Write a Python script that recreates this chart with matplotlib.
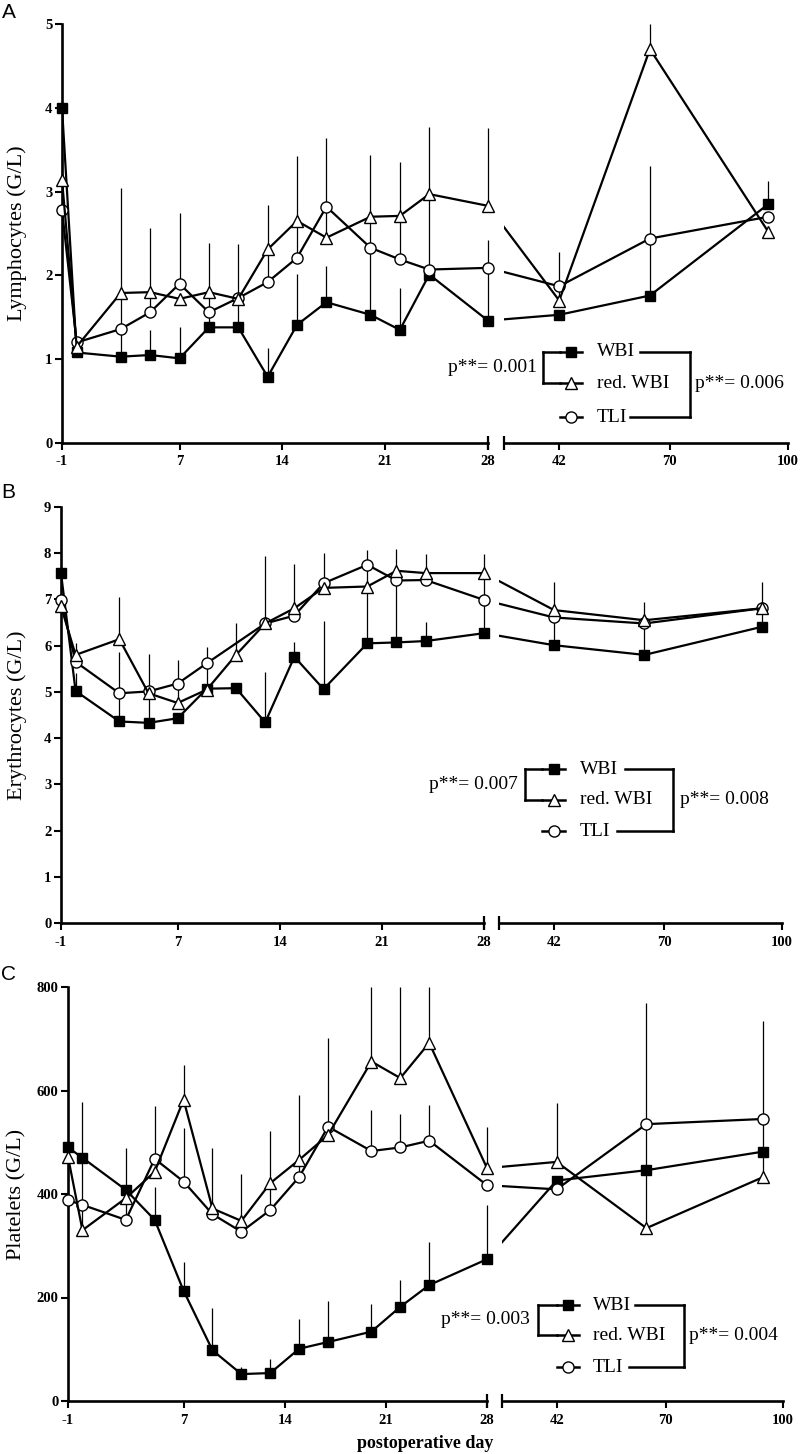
import numpy as np
import matplotlib
matplotlib.use("Agg")
import matplotlib.pyplot as plt
from matplotlib.lines import Line2D

plt.rcParams['font.family'] = ['Liberation Serif', 'DejaVu Serif']

# ---------------- data ----------------
nan = np.nan
days = [-1, 0, 3, 5, 7, 9, 11, 13, 15, 17, 20, 22, 24, 28, 42, 65, 95]
groups = ['WBI', 'red. WBI', 'TLI']

# Panel A: lymphocytes (G/L)
lym_wbi = [4.00, 1.08, 1.03, 1.05, 1.01, 1.38, 1.38, 0.79, 1.41, 1.68, 1.53, 1.35, 2.01, 1.46, 1.53, 1.76, 2.85]
lym_wbi_sd = [nan, nan, 2.01, 0.30, 0.38, 1.01, 0.99, 0.34, 0.61, 0.43, 1.91, 0.50, 1.76, 0.96, nan, 1.54, 0.28]
lym_red = [3.14, 1.15, 1.79, 1.80, 1.72, 1.80, 1.72, 2.31, 2.65, 2.45, 2.70, 2.71, 2.97, 2.83, 1.70, 4.70, 2.52]
lym_red_sd = [0.30, nan, nan, nan, nan, nan, nan, nan, nan, 1.19, nan, nan, nan, 0.93, 0.58, 0.35, nan]
lym_tli = [2.78, 1.20, 1.36, 1.56, 1.90, 1.56, 1.73, 1.92, 2.21, 2.82, 2.33, 2.19, 2.07, 2.09, 1.87, 2.44, 2.70]
lym_tli_sd = [nan, nan, nan, 1.00, 0.85, nan, nan, 0.92, 1.21, nan, nan, 1.16, nan, nan, nan, nan, nan]

# Panel B: erythrocytes (G/L)
ery_wbi = [7.57, 5.02, 4.36, 4.33, 4.43, 5.07, 5.08, 4.34, 5.76, 5.06, 6.05, 6.07, 6.10, 6.27, 6.01, 5.80, 6.41]
ery_wbi_sd = [nan, 0.38, 1.51, 1.50, nan, nan, nan, 1.10, 0.33, 1.48, 2.02, 2.02, 0.42, 1.71, 1.36, 1.15, 0.97]
ery_red = [6.85, 5.80, 6.14, 4.97, 4.76, 5.05, 5.80, 6.48, 6.81, 7.25, 7.28, 7.62, 7.57, 7.57, 6.77, 6.55, 6.81]
ery_red_sd = [nan, 0.25, 0.91, nan, 0.94, 0.93, 0.68, 1.46, 0.96, 0.76, nan, nan, 0.41, nan, nan, nan, nan]
ery_tli = [6.98, 5.65, 4.97, 5.01, 5.18, 5.62, nan, 6.48, 6.65, 7.35, 7.75, 7.41, 7.42, 6.99, 6.61, 6.48, 6.81]
ery_tli_sd = [nan] * 17

# Panel C: platelets (G/L)
plt_wbi = [490, 470, 408, 350, 213, 98, 52, 54, 101, 114, 134, 182, 224, 274, 426, 446, 482]
plt_wbi_sd = [nan, nan, nan, 64, 56, 81, 14, 28, 58, 80, 54, 52, 84, 105, nan, nan, nan]
plt_red = [472, 330, 392, 443, 582, 372, 348, 421, 466, 514, 656, 624, 692, 450, 462, 334, 433]
plt_red_sd = [nan, 248, nan, nan, 68, nan, nan, nan, nan, 187, 200, 200, 150, 80, 114, 436, 301]
plt_tli = [388, 379, 350, 468, 424, 361, 327, 369, 433, 530, 483, 490, 503, 417, 409, 535, 545]
plt_tli_sd = [nan, nan, 138, 102, 103, 127, 111, 153, 158, nan, 79, 65, 69, nan, nan, nan, nan]

xticks_left = [-1, 7, 14, 21, 28]
xticks_right = [42, 70, 100]
yticks_A = [0, 1, 2, 3, 4, 5]
yticks_B = [0, 1, 2, 3, 4, 5, 6, 7, 8, 9]
yticks_C = [0, 200, 400, 600, 800]
ylabels = ['Lymphocytes (G/L)', 'Erythrocytes (G/L)', 'Platelets (G/L)']
panel_letters = ['A', 'B', 'C']
pvals_pair = ['0.001', '0.007', '0.003']
pvals_all = ['0.006', '0.008', '0.004']

# ---------------- layout ----------------
W, H = 800, 1454
fig = plt.figure(figsize=(W / 100, H / 100), dpi=100)


def fy(y):
    return 1 - y / H


def box(x0, x1, y0, y1):
    return [x0 / W, 1 - y1 / H, (x1 - x0) / W, (y1 - y0) / H]


styles = {
    'WBI': dict(marker='s', markerfacecolor='black', markersize=7),
    'red. WBI': dict(marker='^', markerfacecolor='white', markersize=8.5),
    'TLI': dict(marker='o', markerfacecolor='white', markersize=8),
}
zbase = {'WBI': 2, 'TLI': 3, 'red. WBI': 4}

panels = [
    dict(left=(62, 488), right=(504, 788), ytop=24, ybot=443, ylim=(0, 5), yticks=yticks_A,
         series=[('WBI', lym_wbi, lym_wbi_sd), ('red. WBI', lym_red, lym_red_sd), ('TLI', lym_tli, lym_tli_sd)],
         letter_xy=(9, 13),
         leg=dict(rows=(352, 383, 417), seg=(560, 582), tx=597, lbx=543, lpr=537,
                  rbx=690, wend=640, tend=630, rpx=695)),
    dict(left=(61, 484), right=(499, 782), ytop=507, ybot=923, ylim=(0, 9), yticks=yticks_B,
         series=[('WBI', ery_wbi, ery_wbi_sd), ('red. WBI', ery_red, ery_red_sd), ('TLI', ery_tli, ery_tli_sd)],
         letter_xy=(8, 492),
         leg=dict(rows=(769, 800, 831), seg=(542, 565), tx=580, lbx=525, lpr=518,
                  rbx=673, wend=625, tend=617, rpx=680)),
    dict(left=(68, 487), right=(502, 783), ytop=987, ybot=1401, ylim=(0, 800), yticks=yticks_C,
         series=[('WBI', plt_wbi, plt_wbi_sd), ('red. WBI', plt_red, plt_red_sd), ('TLI', plt_tli, plt_tli_sd)],
         letter_xy=(8, 975),
         leg=dict(rows=(1305, 1335, 1367), seg=(557, 579), tx=593, lbx=538, lpr=530,
                  rbx=684, wend=635, tend=629, rpx=689)),
]

LW = 1.6
SPW = 1.9

for i, p in enumerate(panels):
    axL = fig.add_axes(box(p['left'][0], p['left'][1], p['ytop'], p['ybot']))
    axR = fig.add_axes(box(p['right'][0], p['right'][1], p['ytop'], p['ybot']))
    axL.set_xlim(-1, 28)
    axR.set_xlim(28, 100)
    for ax in (axL, axR):
        ax.set_ylim(*p['ylim'])
        ax.patch.set_visible(False)
        for sp in ('top', 'right'):
            ax.spines[sp].set_visible(False)
        ax.spines['bottom'].set_linewidth(SPW)
        ax.tick_params(axis='x', direction='out', length=5, width=1.5, pad=4)
    axR.spines['left'].set_visible(False)
    axR.tick_params(axis='y', left=False, labelleft=False)
    axL.spines['left'].set_linewidth(SPW)
    axL.tick_params(axis='y', direction='out', length=5, width=1.5, pad=2)
    axL.set_xticks(xticks_left, labels=[str(t) for t in xticks_left], fontweight='bold', fontsize=10.5)
    axR.set_xticks(xticks_right, labels=[str(t) for t in xticks_right], fontweight='bold', fontsize=10.5)
    axL.set_yticks(p['yticks'], labels=[str(t) for t in p['yticks']], fontweight='bold', fontsize=10.5)
    # break bars at segment ends
    axL.plot([1], [0], marker='|', markersize=10, markeredgewidth=1.6, color='black',
             transform=axL.transAxes, clip_on=False)
    axR.plot([0], [0], marker='|', markersize=10, markeredgewidth=1.6, color='black',
             transform=axR.transAxes, clip_on=False)

    ytop_val = p['ylim'][1]
    d_all = np.asarray(days, float)
    for name, vals, sd in p['series']:
        st = styles[name]
        z = zbase[name]
        v = np.asarray(vals, float)
        s = np.asarray(sd, float)
        ok = ~np.isnan(v)
        dd, vv, ss = d_all[ok], v[ok], s[ok]
        lm = dd <= 28
        rm = dd > 28
        # error bars (upper SD), limited to the axis top
        for ax, m in ((axL, lm), (axR, rm)):
            h = m & ~np.isnan(ss)
            ax.vlines(dd[h], vv[h], np.minimum(vv[h] + ss[h], ytop_val), color='black',
                      lw=0.9, zorder=1.5, clip_on=False)
        # left segment
        axL.plot(dd[lm], vv[lm], color='black', lw=LW, zorder=z)
        axL.plot(dd[lm], vv[lm], ls='none', color='black', markeredgecolor='black',
                 markeredgewidth=1.0, zorder=z + 0.5, clip_on=False, **st)
        # right segment: straight screen line from last left point
        pt = axL.transData.transform((dd[lm][-1], vv[lm][-1]))
        xr, yr = axR.transData.inverted().transform(pt)
        axR.plot(np.r_[xr, dd[rm]], np.r_[yr, vv[rm]], color='black', lw=LW, zorder=z)
        axR.plot(dd[rm], vv[rm], ls='none', color='black', markeredgecolor='black',
                 markeredgewidth=1.0, zorder=z + 0.5, clip_on=False, **st)

    # y label and panel letter
    fig.text(17 / W, fy((p['ytop'] + p['ybot']) / 2), ylabels[i], rotation=90,
             ha='center', va='center', fontsize=16)
    lx, ly = p['letter_xy']
    fig.text(lx / W, fy(ly), panel_letters[i], ha='center', va='center', fontsize=15,
             family=['Liberation Sans', 'DejaVu Sans'])

    # custom legend with brackets
    lg = p['leg']
    r1, r2, r3 = lg['rows']

    def hline(x0, x1, y):
        fig.add_artist(Line2D([x0 / W, x1 / W], [fy(y), fy(y)], transform=fig.transFigure,
                              color='black', lw=1.8, solid_capstyle='projecting'))

    def vline(x, y0, y1):
        fig.add_artist(Line2D([x / W, x / W], [fy(y0), fy(y1)], transform=fig.transFigure,
                              color='black', lw=1.8, solid_capstyle='projecting'))

    for name, ry in zip(groups, lg['rows']):
        hline(lg['seg'][0], lg['seg'][1], ry)
        fig.add_artist(Line2D([(lg['seg'][0] + lg['seg'][1]) / 2 / W], [fy(ry)],
                              transform=fig.transFigure, ls='none', color='black',
                              markeredgecolor='black', markeredgewidth=1.0, **styles[name]))
        fig.text(lg['tx'] / W, fy(ry), name, ha='left', va='center', fontsize=14)
    # left bracket (WBI vs red. WBI)
    hline(lg['lbx'], lg['seg'][0], r1)
    hline(lg['lbx'], lg['seg'][0], r2)
    vline(lg['lbx'], r1, r2)
    fig.text(lg['lpr'] / W, fy((r1 + r2) / 2), 'p**= ' + pvals_pair[i], ha='right',
             va='center', fontsize=14)
    # right bracket (WBI vs TLI)
    hline(lg['wend'], lg['rbx'], r1)
    hline(lg['tend'], lg['rbx'], r3)
    vline(lg['rbx'], r1, r3)
    fig.text(lg['rpx'] / W, fy(r2), 'p**= ' + pvals_all[i], ha='left', va='center', fontsize=14)

fig.text(425 / W, fy(1443), 'postoperative day', ha='center', va='center',
         fontsize=13, fontweight='bold')

fig.savefig('out.png', dpi=100)
